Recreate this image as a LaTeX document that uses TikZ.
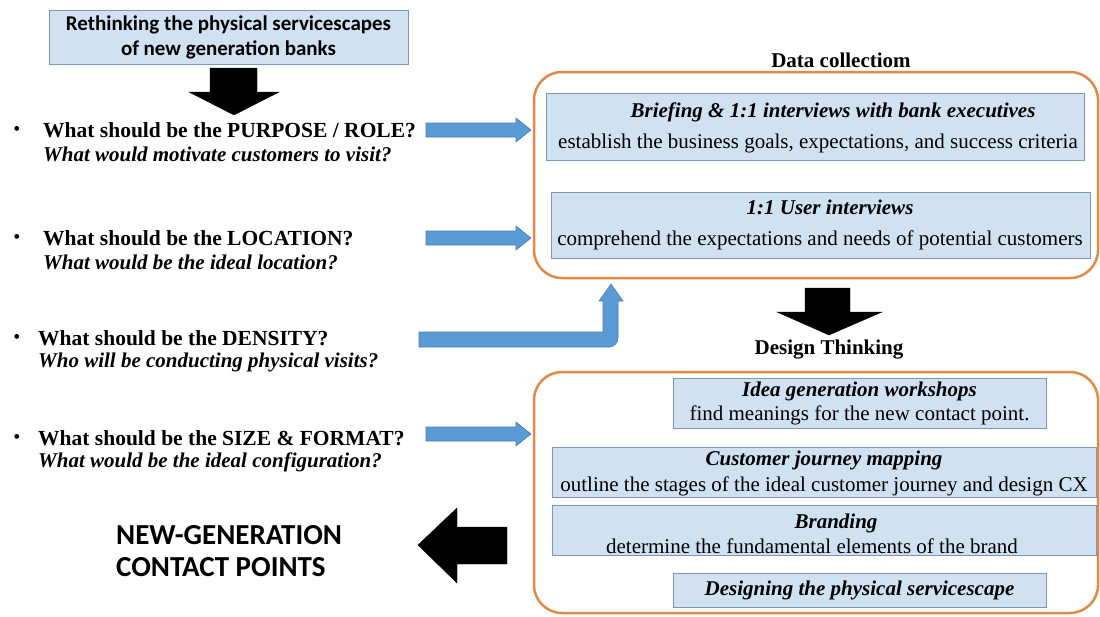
\documentclass[tikz,border=0pt]{standalone}
\usepackage{fontspec}
\setmainfont{Liberation Serif}
\newfontfamily\calib{Carlito}
\definecolor{lblue}{HTML}{D0E1F2}
\definecolor{bborder}{HTML}{7F97B2}
\definecolor{arrblue}{HTML}{5B9BD5}
\definecolor{arrborder}{HTML}{4A7FB0}
\definecolor{orng}{HTML}{DD8A4A}
\tikzset{
  lbox/.style={draw=bborder, fill=lblue, line width=0.8pt, inner sep=0pt},
  obox/.style={draw=orng, line width=2.5pt, rounded corners=28pt},
  barrow/.style={fill=arrblue, draw=arrborder, line width=0.6pt},
  karrow/.style={fill=black},
  qtext/.style={anchor=west, font=\fontsize{21.5}{24}\selectfont\bfseries, inner sep=0pt},
  qsub/.style={anchor=west, font=\fontsize{21}{24}\selectfont\bfseries\itshape, inner sep=0pt},
  bullet/.style={anchor=center, font=\fontsize{20}{22}\selectfont, inner sep=0pt},
  htext/.style={font=\fontsize{21}{24}\selectfont\bfseries\itshape, inner sep=0pt},
  ntext/.style={font=\fontsize{21}{24}\selectfont, inner sep=0pt},
  label/.style={font=\fontsize{21}{24}\selectfont\bfseries, inner sep=0pt}
}
\begin{document}
\begin{tikzpicture}[x=1pt,y=-1pt]
\useasboundingbox (0,0) rectangle (1100,616);
\fill[white] (0,0) rectangle (1100,616);

% top box
\node[lbox, minimum width=359pt, minimum height=54pt] (top) at (228.5,37) {};
\node[font=\calib\fontsize{21}{25}\selectfont\bfseries, align=center, inner sep=0pt] (toptxt) at (top.center) {Rethinking the physical servicescapes\\of new generation banks};

% top black arrow
\draw[karrow] (210,68) -- (257,68) -- (257,92) -- (279,92) -- (234,115) -- (189,92) -- (210,92) -- cycle;

% questions
\node[bullet] (b1) at (17,131) {•};
\node[qtext] (q1) at (43,130) {What should be the PURPOSE / ROLE?};
\node[qsub] (s1) at (43,154) {What would motivate customers to visit?};
\node[bullet] (b2) at (17,239) {•};
\node[qtext] (q2) at (43,238) {What should be the LOCATION?};
\node[qsub] (s2) at (43,262) {What would be the ideal location?};
\node[bullet] (b3) at (17,339) {•};
\node[qtext] (q3) at (38,338) {What should be the DENSITY?};
\node[qsub] (s3) at (38,362) {Who will be conducting physical visits?};
\node[bullet] (b4) at (17,439) {•};
\node[qtext] (q4) at (38,438) {What should be the SIZE \& FORMAT?};
\node[qsub] (s4) at (38,462) {What would be the ideal configuration?};

% blue arrows
\draw[barrow, shift={(426,130)}] (0,-7) -- (90,-7) -- (90,-12) -- (105,0) -- (90,12) -- (90,7) -- (0,7) -- cycle;
\draw[barrow, shift={(426,238)}] (0,-7) -- (90,-7) -- (90,-12) -- (105,0) -- (90,12) -- (90,7) -- (0,7) -- cycle;
\draw[barrow, shift={(426,434)}] (0,-7) -- (90,-7) -- (90,-12) -- (105,0) -- (90,12) -- (90,7) -- (0,7) -- cycle;
\draw[barrow] (419,332) -- (603,332) -- (603,301) -- (599,301) -- (611,284) -- (623,301) -- (618,301) [rounded corners=9pt] -- (618,347) [sharp corners] -- (419,347) -- cycle;

% data collection
\node[label] (dc) at (841,60) {Data collectiom};
\draw[obox] (534,72) rectangle (1098,278);
\node[lbox, minimum width=538pt, minimum height=67pt] (d1) at (815,126.5) {};
\node[htext] (d1h) at (833,112) {Briefing \& 1:1 interviews with bank executives};
\node[ntext] (d1t) at (818,143) {establish the business goals, expectations, and success criteria};
\node[lbox, minimum width=539pt, minimum height=66pt] (d2) at (820.5,225) {};
\node[htext] (d2h) at (830,207) {1:1 User interviews};
\node[ntext] (d2t) at (820,240) {comprehend the expectations and needs of potential customers};

% middle black arrow
\draw[karrow] (805,288) -- (850,288) -- (850,312) -- (882,312) -- (829,335) -- (777,312) -- (805,312) -- cycle;

% design thinking
\node[label] (dt) at (829,350) {Design Thinking};
\draw[obox] (534,372) rectangle (1098,613);
\node[lbox, minimum width=373pt, minimum height=50pt] (e1) at (859.5,403) {};
\node[htext] (e1h) at (859.5,391) {Idea generation workshops};
\node[ntext] (e1t) at (859.5,415) {find meanings for the new contact point.};
\node[lbox, minimum width=544pt, minimum height=50pt] (e2) at (824,472) {};
\node[htext] (e2h) at (824,460) {Customer journey mapping};
\node[ntext] (e2t) at (824,486) {outline the stages of the ideal customer journey and design CX};
\node[lbox, minimum width=544pt, minimum height=50pt] (e3) at (824,530) {};
\node[htext] (e3h) at (836,523) {Branding};
\node[ntext] (e3t) at (812,546) {determine the fundamental elements of the brand};
\node[lbox, minimum width=373pt, minimum height=34pt] (e4) at (859.5,590) {};
\node[htext] (e4h) at (859.5,590) {Designing the physical servicescape};

% left black arrow
\draw[karrow] (507,527) -- (507,564) -- (457,564) -- (457,583) -- (418,545) -- (457,508) -- (457,527) -- cycle;

\node[font=\calib\fontsize{29}{32}\selectfont\bfseries, align=left, anchor=west, inner sep=0pt] (ng) at (116,551) {NEW-GENERATION\\CONTACT POINTS};
\end{tikzpicture}
\end{document}
